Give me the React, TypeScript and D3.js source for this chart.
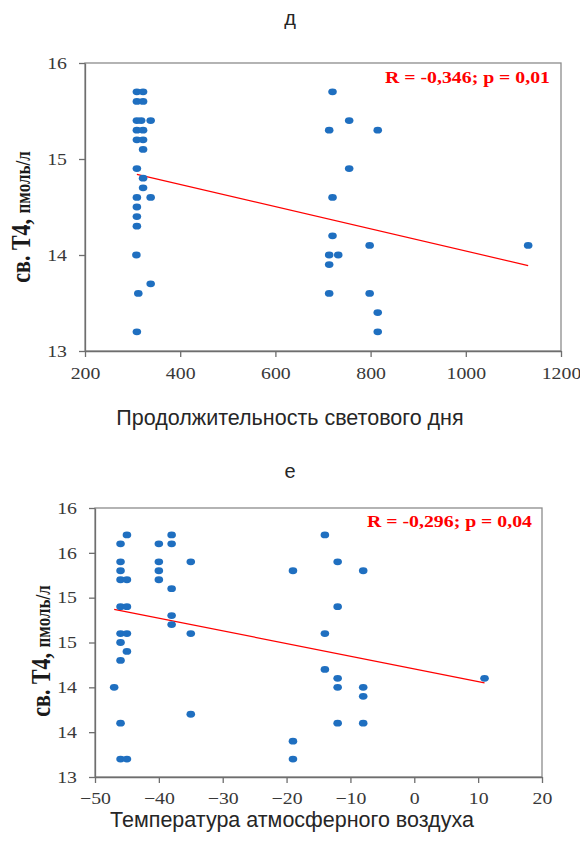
import { useEffect, useRef } from "react";
import * as d3 from "d3";

// panel "д": daylight duration vs free T4
const dayX = [
  309, 322, 309, 322, 309, 318, 338, 309, 322, 309, 322, 322, 309, 322, 322,
  309, 338, 309, 309, 309, 308, 338, 312, 309,
  720, 755, 713, 815, 755, 720, 720, 798, 713, 732, 713, 713, 798, 815, 815, 1131,
];
const dayT4 = [
  15.7, 15.7, 15.6, 15.6, 15.4, 15.4, 15.4, 15.3, 15.3, 15.2, 15.2, 15.1, 14.9, 14.8, 14.7,
  14.6, 14.6, 14.5, 14.4, 14.3, 14.0, 13.7, 13.6, 13.2,
  15.7, 15.4, 15.3, 15.3, 14.9, 14.6, 14.2, 14.1, 14.0, 14.0, 13.9, 13.6, 13.6, 13.4, 13.2, 14.1,
];
const dayTrendX = [309, 1131];
const dayTrendY = [14.84, 13.89];
const dayXTicks = [200, 400, 600, 800, 1000, 1200];
const dayYTicks = [13, 14, 15, 16];
const dayYLabels = ["13", "14", "15", "16"];

// panel "е": air temperature vs free T4
const tempX = [
  -47, -46, -45, -46, -46, -46, -45, -46, -45, -46, -45, -46, -45, -46, -46, -46, -45,
  -40, -40, -40, -40, -38, -38, -38, -38, -38, -35, -35, -35,
  -19, -19, -19, -14, -14, -14, -12, -12, -12, -12, -12, -8, -8, -8, -8, 11,
];
const tempT4 = [
  14.0, 15.6, 15.7, 15.4, 15.3, 15.2, 15.2, 14.9, 14.9, 14.6, 14.6, 14.5, 14.4, 14.3, 13.6, 13.2, 13.2,
  15.6, 15.4, 15.3, 15.2, 15.7, 15.6, 15.1, 14.8, 14.7, 15.4, 14.6, 13.7,
  15.3, 13.4, 13.2, 15.7, 14.6, 14.2, 15.4, 14.9, 14.1, 14.0, 13.6, 15.3, 14.0, 13.9, 13.6, 14.1,
];
const tempTrendX = [-47, 11];
const tempTrendY = [14.87, 14.05];
const tempXTicks = [-50, -40, -30, -20, -10, 0, 10, 20];
const tempYTicks = [13, 13.5, 14, 14.5, 15, 15.5, 16];
const tempYLabels = ["13", "14", "14", "15", "15", "16", "16"];

const SX = 1.2; // the source picture is stretched sideways
const SERIF = "'Liberation Serif', 'Times New Roman', serif";
const SANS = "'Liberation Sans', Arial, sans-serif";

const panels = [
  {
    xs: dayX, ys: dayT4, tx: dayTrendX, ty: dayTrendY,
    xDomain: [200, 1200], yDomain: [13, 16],
    xTicks: dayXTicks, yTicks: dayYTicks, yLabels: dayYLabels,
    left: 85, right: 561, top: 63, bottom: 351,
    title: "д", titleY: 25,
    xTitle: "Продолжительность светового дня", xTitleY: 425, xTitleX: 290,
    stat: "R = -0,346; p = 0,01", statX: 550, statY: 83,
    yTitleX: 30, yTitleY: 217, xPad: 10,
  },
  {
    xs: tempX, ys: tempT4, tx: tempTrendX, ty: tempTrendY,
    xDomain: [-50, 20], yDomain: [13, 16],
    xTicks: tempXTicks, yTicks: tempYTicks, yLabels: tempYLabels,
    left: 95, right: 542, top: 508, bottom: 777,
    title: "е", titleY: 478,
    xTitle: "Температура атмосферного воздуха", xTitleY: 827, xTitleX: 292,
    stat: "R = -0,296; p = 0,04", statX: 532, statY: 527,
    yTitleX: 50, yTitleY: 651, xPad: 9,
  },
];

const App = () => {
  const ref = useRef<SVGSVGElement>(null);

  useEffect(() => {
    const svg = d3.select(ref.current);
    svg.selectAll("*").remove();

    panels.forEach((p) => {
      const x = d3.scaleLinear(p.xDomain, [p.left, p.right]);
      const y = d3.scaleLinear(p.yDomain, [p.bottom, p.top]);
      const g = svg.append("g");

      // frame
      g.append("rect")
        .attr("x", p.left)
        .attr("y", p.top)
        .attr("width", p.right - p.left)
        .attr("height", p.bottom - p.top)
        .attr("fill", "none")
        .attr("stroke", "#8c8c8c")
        .attr("stroke-width", 1.3);

      const styleAxis = (a) => {
        a.attr("font-family", SERIF).attr("font-size", 16.5);
        a.selectAll("path, line").attr("stroke", "#6e6e6e").attr("stroke-width", 1.3);
        a.selectAll("text").attr("fill", "#383838").attr("transform", `scale(${SX},1)`);
      };

      g.append("g")
        .attr("transform", `translate(0,${p.bottom})`)
        .call(d3.axisBottom(x).tickValues(p.xTicks).tickSize(6).tickSizeOuter(0).tickPadding(p.xPad).tickFormat(d3.format("d")))
        .call(styleAxis);

      g.append("g")
        .attr("transform", `translate(${p.left},0)`)
        .call(
          d3.axisLeft(y).tickValues(p.yTicks).tickSize(6).tickSizeOuter(0).tickPadding(9)
            .tickFormat((d, i) => p.yLabels[i])
        )
        .call(styleAxis);

      // trend line
      g.append("path")
        .attr("fill", "none")
        .attr("stroke", "#ff0000")
        .attr("stroke-width", 1.2)
        .attr("d", d3.line<number>().x((i) => x(p.tx[i])).y((i) => y(p.ty[i]))(d3.range(p.tx.length)));

      // dots
      g.append("g")
        .attr("fill", "#1f6fc0")
        .selectAll("ellipse")
        .data(d3.range(p.xs.length))
        .join("ellipse")
        .attr("cx", (i) => x(p.xs[i]))
        .attr("cy", (i) => y(p.ys[i]))
        .attr("rx", 4.3)
        .attr("ry", 3.4);

      // stats
      g.append("text")
        .attr("transform", `translate(${p.statX},${p.statY}) scale(${SX},1)`)
        .attr("text-anchor", "end")
        .attr("font-family", SERIF)
        .attr("font-weight", "bold")
        .attr("font-size", 16.5)
        .attr("fill", "#ff0000")
        .text(p.stat);

      // panel letter
      g.append("text")
        .attr("x", 290)
        .attr("y", p.titleY)
        .attr("text-anchor", "middle")
        .attr("font-family", SANS)
        .attr("font-size", 20)
        .attr("fill", "#262626")
        .text(p.title);

      // x title
      g.append("text")
        .attr("x", p.xTitleX)
        .attr("y", p.xTitleY)
        .attr("text-anchor", "middle")
        .attr("font-family", SANS)
        .attr("font-size", 21.5)
        .attr("fill", "#262626")
        .text(p.xTitle);

      // y title
      const yt = g.append("text")
        .attr("transform", `translate(${p.yTitleX},${p.yTitleY}) scale(${SX},1) rotate(-90)`)
        .attr("text-anchor", "middle")
        .attr("font-family", SERIF)
        .attr("font-weight", "bold")
        .attr("fill", "#1a1a1a");
      yt.append("tspan").attr("font-size", 22).text("св. Т4, ");
      yt.append("tspan").attr("font-size", 17).text("пмоль/л");
    });
  }, []);

  return (
    <svg
      ref={ref}
      width={580}
      height={848}
      style={{ position: "absolute", left: 0, top: 0, background: "#fff" }}
    />
  );
};

export default App;
